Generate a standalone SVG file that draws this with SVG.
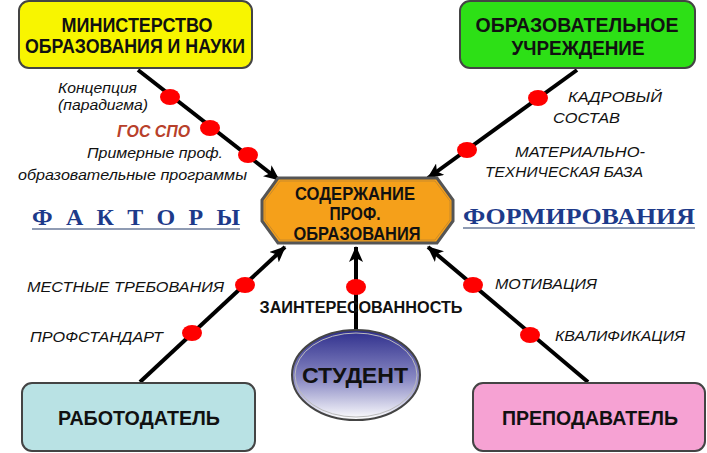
<svg xmlns="http://www.w3.org/2000/svg" width="707" height="453" viewBox="0 0 707 453">
<defs>
<marker id="arr" viewBox="0 0 16 14" refX="15" refY="7" markerWidth="16" markerHeight="14" markerUnits="userSpaceOnUse" orient="auto">
<path d="M0,0 L16,7 L0,14 L4,7 Z" fill="#000"/>
</marker>
<linearGradient id="stud" x1="0" y1="0" x2="0" y2="1">
<stop offset="0" stop-color="#2e2e8c"/>
<stop offset="0.55" stop-color="#8a8ac4"/>
<stop offset="1" stop-color="#ffffff"/>
</linearGradient>
<style>
.box{stroke:#444;stroke-width:2}
.bt{font-family:"Liberation Sans",Arial,sans-serif;font-weight:bold;fill:#111;text-anchor:middle}
.lb{font-family:"Liberation Sans",Arial,sans-serif;font-style:italic;font-size:15px;fill:#111}
.con{stroke:#000;stroke-width:4;fill:none}
.dot{fill:#ff0000}
.big{font-family:"Liberation Serif","Times New Roman",serif;font-weight:bold;font-size:24px;fill:#1d3a8a}
</style>
</defs>
<rect width="707" height="453" fill="#fff"/>

<g id="connectors">
<line class="con" x1="138" y1="70" x2="279" y2="180" marker-end="url(#arr)"/>
<line class="con" x1="577" y1="70" x2="428" y2="178" marker-end="url(#arr)"/>
<line class="con" x1="140" y1="382" x2="285" y2="247" marker-end="url(#arr)"/>
<line class="con" x1="588" y1="382" x2="428" y2="247" marker-end="url(#arr)"/>
<line class="con" x1="356" y1="331" x2="356" y2="247" marker-end="url(#arr)"/>
<ellipse class="dot" cx="170" cy="97" rx="10" ry="8"/>
<ellipse class="dot" cx="210" cy="128" rx="10" ry="8"/>
<ellipse class="dot" cx="248" cy="155" rx="10" ry="8"/>
<ellipse class="dot" cx="538" cy="98" rx="10" ry="8"/>
<ellipse class="dot" cx="467" cy="150" rx="10" ry="8"/>
<ellipse class="dot" cx="245" cy="285" rx="10" ry="8"/>
<ellipse class="dot" cx="192" cy="333" rx="10" ry="8"/>
<ellipse class="dot" cx="473" cy="285" rx="10" ry="8"/>
<ellipse class="dot" cx="530" cy="335" rx="10" ry="8"/>
<ellipse class="dot" cx="356" cy="287" rx="10" ry="8"/>
</g>

<g id="labels">
<text class="lb" x="137" y="93" text-anchor="end" textLength="79" lengthAdjust="spacingAndGlyphs">Концепция</text>
<text class="lb" x="148" y="110" text-anchor="end" textLength="90" lengthAdjust="spacingAndGlyphs">(парадигма)</text>
<text x="117" y="137" font-family="'Liberation Sans',Arial,sans-serif" font-style="italic" font-weight="bold" font-size="16" fill="#b8402a" textLength="73" lengthAdjust="spacingAndGlyphs">ГОС СПО</text>
<text class="lb" x="87" y="158" textLength="136" lengthAdjust="spacingAndGlyphs">Примерные проф.</text>
<text class="lb" x="18" y="180" textLength="229" lengthAdjust="spacingAndGlyphs">образовательные программы</text>
<text class="lb" x="568" y="102" textLength="94" lengthAdjust="spacingAndGlyphs">КАДРОВЫЙ</text>
<text class="lb" x="553" y="123" textLength="67" lengthAdjust="spacingAndGlyphs">СОСТАВ</text>
<text class="lb" x="515" y="157" textLength="130" lengthAdjust="spacingAndGlyphs">МАТЕРИАЛЬНО-</text>
<text class="lb" x="485" y="177" textLength="158" lengthAdjust="spacingAndGlyphs">ТЕХНИЧЕСКАЯ БАЗА</text>
<text class="lb" x="27" y="292" textLength="197" lengthAdjust="spacingAndGlyphs">МЕСТНЫЕ ТРЕБОВАНИЯ</text>
<text class="lb" x="30" y="342" textLength="133" lengthAdjust="spacingAndGlyphs">ПРОФСТАНДАРТ</text>
<text class="lb" x="495" y="289" textLength="102" lengthAdjust="spacingAndGlyphs">МОТИВАЦИЯ</text>
<text class="lb" x="555" y="341" textLength="130" lengthAdjust="spacingAndGlyphs">КВАЛИФИКАЦИЯ</text>
<text class="bt" x="361" y="313" font-size="16" textLength="203" lengthAdjust="spacingAndGlyphs">ЗАИНТЕРЕСОВАННОСТЬ</text>
</g>

<g id="title">
<text class="big" x="32" y="225" textLength="208" lengthAdjust="spacing">Ф А К Т О Р Ы</text>
<line x1="32" y1="229" x2="240" y2="229" stroke="#6a7a9a" stroke-width="1.5"/>
<text class="big" x="463" y="224" textLength="232" lengthAdjust="spacingAndGlyphs">ФОРМИРОВАНИЯ</text>
<line x1="463" y1="228" x2="695" y2="228" stroke="#6a7a9a" stroke-width="1.5"/>
</g>

<g id="ministry">
<rect class="box" x="19" y="1" width="233" height="67" rx="10" fill="#f8f500"/>
<text class="bt" x="137" y="32" font-size="20" textLength="151" lengthAdjust="spacingAndGlyphs">МИНИСТЕРСТВО</text>
<text class="bt" x="135" y="53" font-size="20" textLength="220" lengthAdjust="spacingAndGlyphs">ОБРАЗОВАНИЯ И НАУКИ</text>
</g>

<g id="school">
<rect class="box" x="460" y="1" width="235" height="67" rx="10" fill="#2de016"/>
<text class="bt" x="577" y="32" font-size="20" textLength="203" lengthAdjust="spacingAndGlyphs">ОБРАЗОВАТЕЛЬНОЕ</text>
<text class="bt" x="578" y="55" font-size="20" textLength="133" lengthAdjust="spacingAndGlyphs">УЧРЕЖДЕНИЕ</text>
</g>

<g id="content">
<polygon points="278,178 437,178 453,200 453,221 437,243 278,243 262,221 262,200" fill="#f5a01a" stroke="#555" stroke-width="3"/>
<polygon points="280,181 435,181 450,201 450,220 435,240 280,240 265,220 265,201" fill="none" stroke="#c98a2a" stroke-width="1"/>
<text class="bt" x="355" y="200" font-size="18" fill="#2a1500" textLength="120" lengthAdjust="spacingAndGlyphs">СОДЕРЖАНИЕ</text>
<text class="bt" x="355" y="220" font-size="18" fill="#2a1500" textLength="51" lengthAdjust="spacingAndGlyphs">ПРОФ.</text>
<text class="bt" x="357" y="240" font-size="18" fill="#2a1500" textLength="127" lengthAdjust="spacingAndGlyphs">ОБРАЗОВАНИЯ</text>
</g>

<g id="employer">
<rect class="box" x="22" y="383" width="233" height="68" rx="10" fill="#b9e2e4"/>
<text class="bt" x="139" y="425" font-size="20" textLength="162" lengthAdjust="spacingAndGlyphs">РАБОТОДАТЕЛЬ</text>
</g>

<g id="teacher">
<rect class="box" x="473" y="383" width="232" height="68" rx="10" fill="#f6a2d3"/>
<text class="bt" x="590" y="425" font-size="20" textLength="176" lengthAdjust="spacingAndGlyphs">ПРЕПОДАВАТЕЛЬ</text>
</g>

<g id="student">
<ellipse cx="356" cy="375" rx="64" ry="45" fill="url(#stud)" stroke="#444" stroke-width="2"/>
<ellipse cx="356" cy="375" rx="61" ry="42" fill="none" stroke="#bbb" stroke-width="1"/>
<text class="bt" x="355" y="383" font-size="22" fill="#1a1a2a" textLength="106" lengthAdjust="spacingAndGlyphs">СТУДЕНТ</text>
</g>
</svg>
